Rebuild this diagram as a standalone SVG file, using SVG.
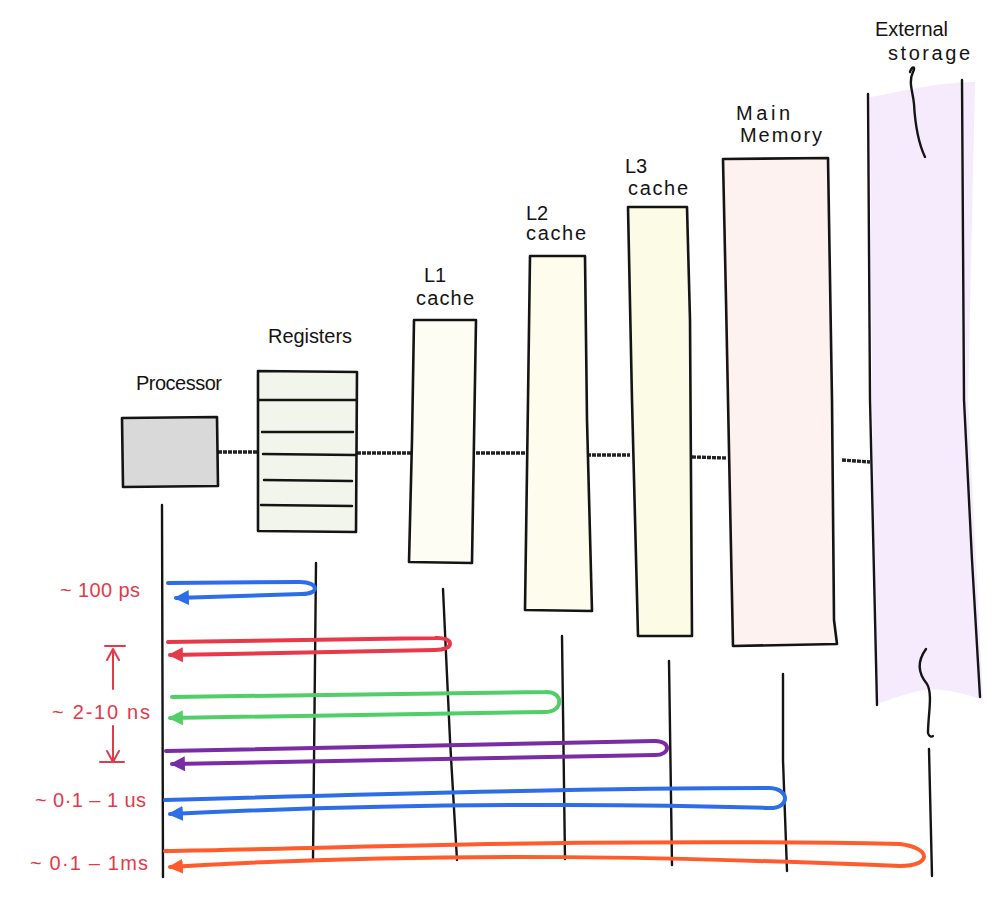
<svg xmlns="http://www.w3.org/2000/svg" width="1000" height="911" viewBox="0 0 1000 911">
<defs>
<style>
.box{stroke:#141414;stroke-width:2.6;stroke-linejoin:round;stroke-linecap:round}
.ink{fill:none;stroke:#141414;stroke-width:2.4;stroke-linecap:round;stroke-linejoin:round}
.bus{fill:none;stroke:#222;stroke-width:3.4;stroke-dasharray:4 1}
.lbl{font-family:"Liberation Sans","DejaVu Sans",sans-serif;font-size:20px;fill:#141414}
.red{font-family:"Liberation Sans","DejaVu Sans",sans-serif;font-size:20px;fill:#e5394a}
.loop{fill:none;stroke-width:4;stroke-linecap:round;stroke-linejoin:round}
.blue{stroke:#2b6ee8}.rd{stroke:#e8394a}.grn{stroke:#50cf68}.pur{stroke:#7a2ba6}.org{stroke:#ff5b2c}
</style>
<marker id="ah-blue" viewBox="0 0 14 14" refX="12" refY="7" markerWidth="15" markerHeight="15" markerUnits="userSpaceOnUse" orient="auto"><path d="M0,0 L14,7 L0,14 Z" fill="#2b6ee8"/></marker>
<marker id="ah-red" viewBox="0 0 14 14" refX="12" refY="7" markerWidth="15" markerHeight="15" markerUnits="userSpaceOnUse" orient="auto"><path d="M0,0 L14,7 L0,14 Z" fill="#e8394a"/></marker>
<marker id="ah-green" viewBox="0 0 14 14" refX="12" refY="7" markerWidth="15" markerHeight="15" markerUnits="userSpaceOnUse" orient="auto"><path d="M0,0 L14,7 L0,14 Z" fill="#50cf68"/></marker>
<marker id="ah-purple" viewBox="0 0 14 14" refX="12" refY="7" markerWidth="15" markerHeight="15" markerUnits="userSpaceOnUse" orient="auto"><path d="M0,0 L14,7 L0,14 Z" fill="#7a2ba6"/></marker>
<marker id="ah-orange" viewBox="0 0 14 14" refX="12" refY="7" markerWidth="15" markerHeight="15" markerUnits="userSpaceOnUse" orient="auto"><path d="M0,0 L14,7 L0,14 Z" fill="#ff5b2c"/></marker>
</defs>
<rect width="1000" height="911" fill="#ffffff"/>

<g id="connectors">
<path class="bus" d="M218,452 L258,452"/>
<path class="bus" d="M357,453 L413,453"/>
<path class="bus" d="M476,453 L528,453"/>
<path class="bus" d="M587,455 L630,455"/>
<path class="bus" d="M692,457 L726,458"/>
<path class="bus" d="M842,460 L870,462"/>
</g>

<g id="external-storage">
<path d="M870,97 C900,92 935,82 975,82 L968,400 L983,700 C960,692 940,688 925,690 C905,693 890,700 877,704 L872,400 Z" fill="#f5ebfd"/>
<path class="ink" d="M868,94 L870,400 L877,705"/>
<path class="ink" d="M962,80 L964,400 L972,560 L980,697"/>
<path class="ink" d="M910,72 C912,66 916,66 913,72 C908,82 913,92 914,104 C915,122 917,140 925,157"/>
<path class="ink" d="M926,649 C918,660 917,672 927,684 C933,694 928,715 928,733 C929,737 932,737 933,736"/>
<path class="ink" d="M929,749 L932,876"/>
<text class="lbl" x="875" y="36" textLength="73" lengthAdjust="spacing">External</text>
<text class="lbl" x="888" y="60" textLength="82" lengthAdjust="spacing">storage</text>
</g>

<g id="processor">
<path class="box" d="M122,418 L217,417 L218,486 L123,487 Z" fill="#d9d9d9"/>
<path class="ink" d="M162,505 L163,877"/>
<text class="lbl" x="136" y="390" textLength="86" lengthAdjust="spacing">Processor</text>
</g>

<g id="registers">
<path class="box" d="M258,371 L357,372 L356,532 L258,531 Z" fill="#f2f5ec"/>
<path class="ink" d="M259,400 L356,400 M262,432 L353,432 M263,454 L355,455 M264,480 L352,481 M261,505 L352,506"/>
<path class="ink" d="M316,563 L313,860"/>
<text class="lbl" x="268" y="343" textLength="84" lengthAdjust="spacing">Registers</text>
</g>

<g id="l1-cache">
<path class="box" d="M414,320 L476,320 L474,440 L472,563 L409,562 L412,440 Z" fill="#fdfdf3"/>
<path class="ink" d="M443,589 L450,740 L457,860"/>
<text class="lbl" x="424" y="282">L1</text>
<text class="lbl" x="416" y="305" textLength="58" lengthAdjust="spacing">cache</text>
</g>

<g id="l2-cache">
<path class="box" d="M530,256 L585,256 L587,420 L592,611 L525,610 L528,400 Z" fill="#fefcec"/>
<path class="ink" d="M562,636 L565,859"/>
<text class="lbl" x="526" y="220">L2</text>
<text class="lbl" x="526" y="240" textLength="60" lengthAdjust="spacing">cache</text>
</g>

<g id="l3-cache">
<path class="box" d="M628,207 L687,207 L690,320 L692,636 L638,636 L632,400 Z" fill="#fcfbe6"/>
<path class="ink" d="M669,661 L672,865"/>
<text class="lbl" x="625" y="173">L3</text>
<text class="lbl" x="628" y="195" textLength="60" lengthAdjust="spacing">cache</text>
</g>

<g id="main-memory">
<path class="box" d="M723,159 L828,158 L832,400 L834,620 L837,644 L733,646 L730,500 L726,300 Z" fill="#fdf2ef"/>
<path class="ink" d="M783,674 L783,760 L787,871"/>
<text class="lbl" x="736" y="120" textLength="54" lengthAdjust="spacing">Main</text>
<text class="lbl" x="740" y="142" textLength="82" lengthAdjust="spacing">Memory</text>
</g>

<g id="arrows">
<path class="loop blue" d="M168,583 L300,582 C319,582 320,594 302,594 L176,598" marker-end="url(#ah-blue)"/>
<path class="loop rd" d="M168,642 L435,638 C455,637 455,650 435,650 L170,655" marker-end="url(#ah-red)"/>
<path class="loop grn" d="M172,697 L545,692 C564,691 564,712 545,712 L170,718" marker-end="url(#ah-green)"/>
<path class="loop pur" d="M166,751 L655,741 C671,741 671,755 655,755 L172,764" marker-end="url(#ah-purple)"/>
<path class="loop blue" d="M165,800 C300,796 600,788 770,788 C790,789 790,808 770,808 C650,804 420,802 170,814" marker-end="url(#ah-blue)"/>
<path class="loop org" d="M165,851 C350,848 600,838 900,844 C932,848 932,866 900,866 C700,858 450,850 170,867" marker-end="url(#ah-orange)"/>
</g>

<g id="latency-labels">
<text class="red" x="60" y="597" textLength="80" lengthAdjust="spacing">~ 100 ps</text>
<path d="M105,646 L125,646 M113,689 L113,650 M107,660 L113,649 L119,660 M113,726 L113,761 M107,751 L113,762 L119,751 M100,762 L124,762" fill="none" stroke="#e5394a" stroke-width="2" stroke-linecap="round" stroke-linejoin="round"/>
<text class="red" x="52" y="719" textLength="98" lengthAdjust="spacing">~ 2-10 ns</text>
<text class="red" x="35" y="807" textLength="111" lengthAdjust="spacing">~ 0·1 – 1 us</text>
<text class="red" x="30" y="870" textLength="118" lengthAdjust="spacing">~ 0·1 – 1ms</text>
</g>
</svg>
